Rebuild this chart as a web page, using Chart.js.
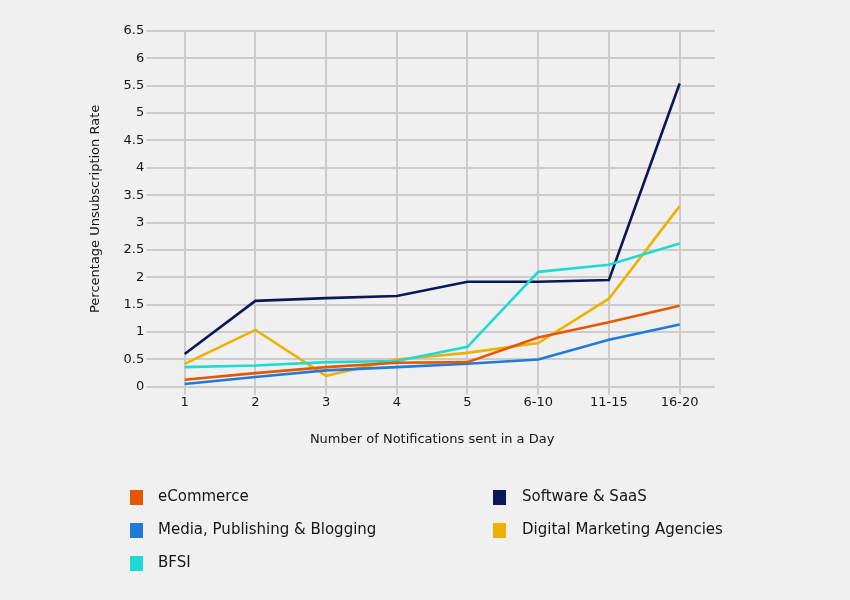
<!DOCTYPE html>
<html>
<head>
<meta charset="utf-8">
<script src="https://cdn.jsdelivr.net/npm/chart.js@4/dist/chart.umd.min.js"></script>
<style>
html,body{margin:0;padding:0;background:#f0f0f0;}
#wrap{position:relative;width:850px;height:600px;}
</style>
</head>
<body>
<div id="wrap"><canvas id="c" width="850" height="600"></canvas></div>
<script>
const categories = ["1","2","3","4","5","6-10","11-15","16-20"];
const eCommerce = [0.13,0.25,0.36,0.44,0.45,0.90,1.18,1.48];
const mediaPublishing = [0.05,0.18,0.30,0.36,0.42,0.50,0.86,1.14];
const bfsi = [0.36,0.39,0.45,0.47,0.73,2.10,2.23,2.62];
const softwareSaaS = [0.60,1.57,1.62,1.66,1.92,1.92,1.95,5.54];
const digitalMarketing = [0.42,1.04,0.20,0.50,0.62,0.80,1.61,3.30];
const yTickLabels = ["0","0.5","1","1.5","2","2.5","3","3.5","4","4.5","5","5.5","6","6.5"];

const FONT = "'DejaVu Sans', sans-serif";

const legendPlugin = {
  id: 'customLegend',
  afterDraw(chart) {
    const ctx = chart.ctx;
    const ds = chart.data.datasets;
    // row-major order, 2 columns
    const order = [0, 3, 1, 4, 2];
    const cols = [{box:130, text:158}, {box:493, text:522}];
    const rows = [497, 530, 563];
    ctx.save();
    ctx.font = "15px " + FONT;
    ctx.textBaseline = 'middle';
    order.forEach((di, i) => {
      const c = cols[i % 2];
      const y = rows[Math.floor(i / 2)];
      ctx.fillStyle = ds[di].borderColor;
      ctx.fillRect(c.box, y - 7, 13, 15);
      ctx.fillStyle = '#151515';
      ctx.fillText(ds[di].label, c.text, y);
    });
    ctx.restore();
  }
};

new Chart(document.getElementById('c'), {
  type: 'line',
  data: {
    labels: categories,
    datasets: [
      {label: 'eCommerce', data: eCommerce, borderColor: '#e65800'},
      {label: 'Media, Publishing & Blogging', data: mediaPublishing, borderColor: '#1f7ad8'},
      {label: 'BFSI', data: bfsi, borderColor: '#1edad3'},
      {label: 'Software & SaaS', data: softwareSaaS, borderColor: '#0a1858'},
      {label: 'Digital Marketing Agencies', data: digitalMarketing, borderColor: '#eeb100'}
    ].map(d => Object.assign(d, {borderWidth: 2.6, pointRadius: 0, tension: 0, fill: false}))
  },
  options: {
    responsive: false,
    animation: false,
    layout: {padding: {left: 84, right: 135, top: 31, bottom: 149}},
    plugins: {legend: {display: false}, tooltip: {enabled: false}},
    scales: {
      x: {
        offset: true,
        grid: {offset: false, color: '#cccccc', lineWidth: 2, tickLength: 8, drawTicks: true},
        border: {display: false},
        ticks: {color: '#151515', font: {family: FONT, size: 13}, padding: 0},
        title: {display: true, text: 'Number of Notifications sent in a Day', color: '#151515', font: {family: FONT, size: 13}, padding: {top: 21}}
      },
      y: {
        min: 0, max: 6.5,
        grid: {color: '#cccccc', lineWidth: 2, tickLength: 3},
        border: {display: false},
        ticks: {stepSize: 0.5, color: '#151515', font: {family: FONT, size: 13}, padding: 2,
          callback: (v, i) => yTickLabels[i]},
        title: {display: true, text: 'Percentage Unsubscription Rate', color: '#151515', font: {family: FONT, size: 13}, padding: {bottom: 18}}
      }
    }
  },
  plugins: [legendPlugin]
});
</script>
</body>
</html>
